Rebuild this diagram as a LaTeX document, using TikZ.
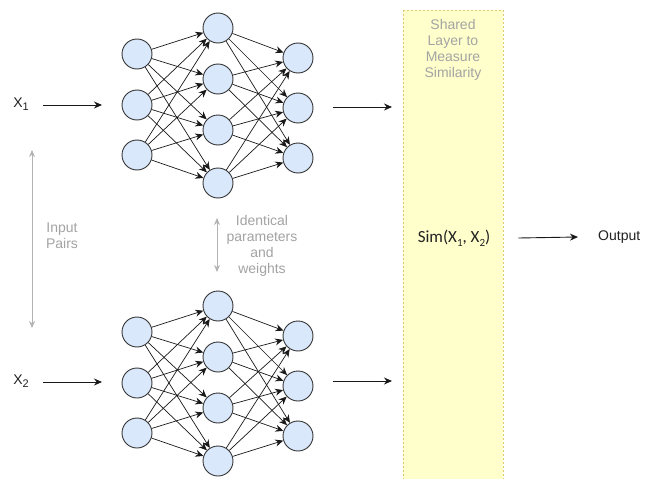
\documentclass[tikz,border=0pt]{standalone}
\usepackage{fontspec}
\setmainfont{Liberation Sans}
\newfontfamily\calib{Carlito}
\usetikzlibrary{arrows.meta}
\definecolor{nodefill}{HTML}{DAE8FC}
\definecolor{nodeline}{HTML}{333333}
\definecolor{txtc}{HTML}{222222}
\definecolor{labgray}{HTML}{A3A3A3}
\definecolor{arrowgray}{HTML}{B3B3B3}
\definecolor{boxfill}{HTML}{FFFFCC}
\definecolor{boxline}{HTML}{E0C870}
\newcommand{\lowsub}[2]{\raisebox{-#2pt}{\fontsize{11}{11}\selectfont #1}}
\newcommand{\siamnet}[2]{%
  \begin{scope}[yshift=-#2pt]
    \foreach \y [count=\k] in {54,105,155} \node[neuron] (#1i\k) at (137,\y) {};
    \foreach \y [count=\k] in {28,79,130,183} \node[neuron] (#1h\k) at (218,\y) {};
    \foreach \y [count=\k] in {58,108,158} \node[neuron] (#1o\k) at (298,\y) {};
    \foreach \a in {1,2,3} \foreach \b in {1,...,4} \draw[conn] (#1i\a) -- (#1h\b);
    \foreach \a in {1,...,4} \foreach \b in {1,2,3} \draw[conn] (#1h\a) -- (#1o\b);
  \end{scope}}
\begin{document}
\begin{tikzpicture}[x=1pt,y=-1pt,
  neuron/.style={circle,draw=nodeline,fill=nodefill,line width=0.9pt,minimum size=30pt,inner sep=0pt},
  conn/.style={draw=black!90,line width=0.7pt,-{Stealth[length=8pt,width=7pt]}},
  inarrow/.style={draw=black!90,line width=0.9pt,-{Stealth[length=8pt,width=7pt]}},
  grayarrow/.style={draw=arrowgray,line width=1pt,{Stealth[length=7pt,width=6pt]}-{Stealth[length=7pt,width=6pt]}},
  graytext/.style={text=labgray,font=\fontsize{14}{16}\selectfont,align=center,inner sep=0pt},
  txt/.style={text=txtc,font=\fontsize{14}{16}\selectfont,inner sep=0pt}]
\clip (0,0) rectangle (646,479);
\fill[white] (0,0) rectangle (646,479);
% shared layer box
\path[fill=boxfill,draw=boxline,line width=0.8pt,dash pattern=on 2pt off 2pt] (403,10) rectangle (503,495);
% networks
\siamnet{t}{0}
\siamnet{b}{278}
% inputs
\node[txt] (x1) at (21,104) {X\lowsub{1}{3}};
\node[txt] (x2) at (21,381) {X\lowsub{2}{3}};
\coordinate (x1s) at (43,105);
\coordinate (x1e) at (102,105);
\coordinate (x2s) at (43,382);
\coordinate (x2e) at (102,382);
\draw[inarrow] (x1s) -- (x1e);
\draw[inarrow] (x2s) -- (x2e);
% outputs to box
\coordinate (t1s) at (333,107);
\coordinate (t1e) at (392,107);
\coordinate (b1s) at (333,381);
\coordinate (b1e) at (392,381);
\draw[inarrow] (t1s) -- (t1e);
\draw[inarrow] (b1s) -- (b1e);
% gray arrows and labels
\coordinate (ps) at (32,150);
\coordinate (pe) at (32,328);
\draw[grayarrow] (ps) -- (pe);
\node[graytext] (pairs) at (62,236) {Input\\Pairs};
\coordinate (is) at (217,218);
\coordinate (ie) at (217,272);
\draw[grayarrow] (is) -- (ie);
\node[graytext] (ident) at (262,246) {Identical\\parameters\\and\\weights};
\node[graytext] (shared) at (453,50) {Shared\\Layer to\\Measure\\Similarity};
% similarity and output
\node[txt,font=\calib\fontsize{17}{20}\selectfont] (sim) at (454,238) {Sim(X\lowsub{1}{4}, X\lowsub{2}{4})};
\node[txt,anchor=west] (out) at (598,237) {Output};
\draw[inarrow] ([xshift=28pt]sim.east) -- ([xshift=-20pt]out.west);
\end{tikzpicture}
\end{document}
